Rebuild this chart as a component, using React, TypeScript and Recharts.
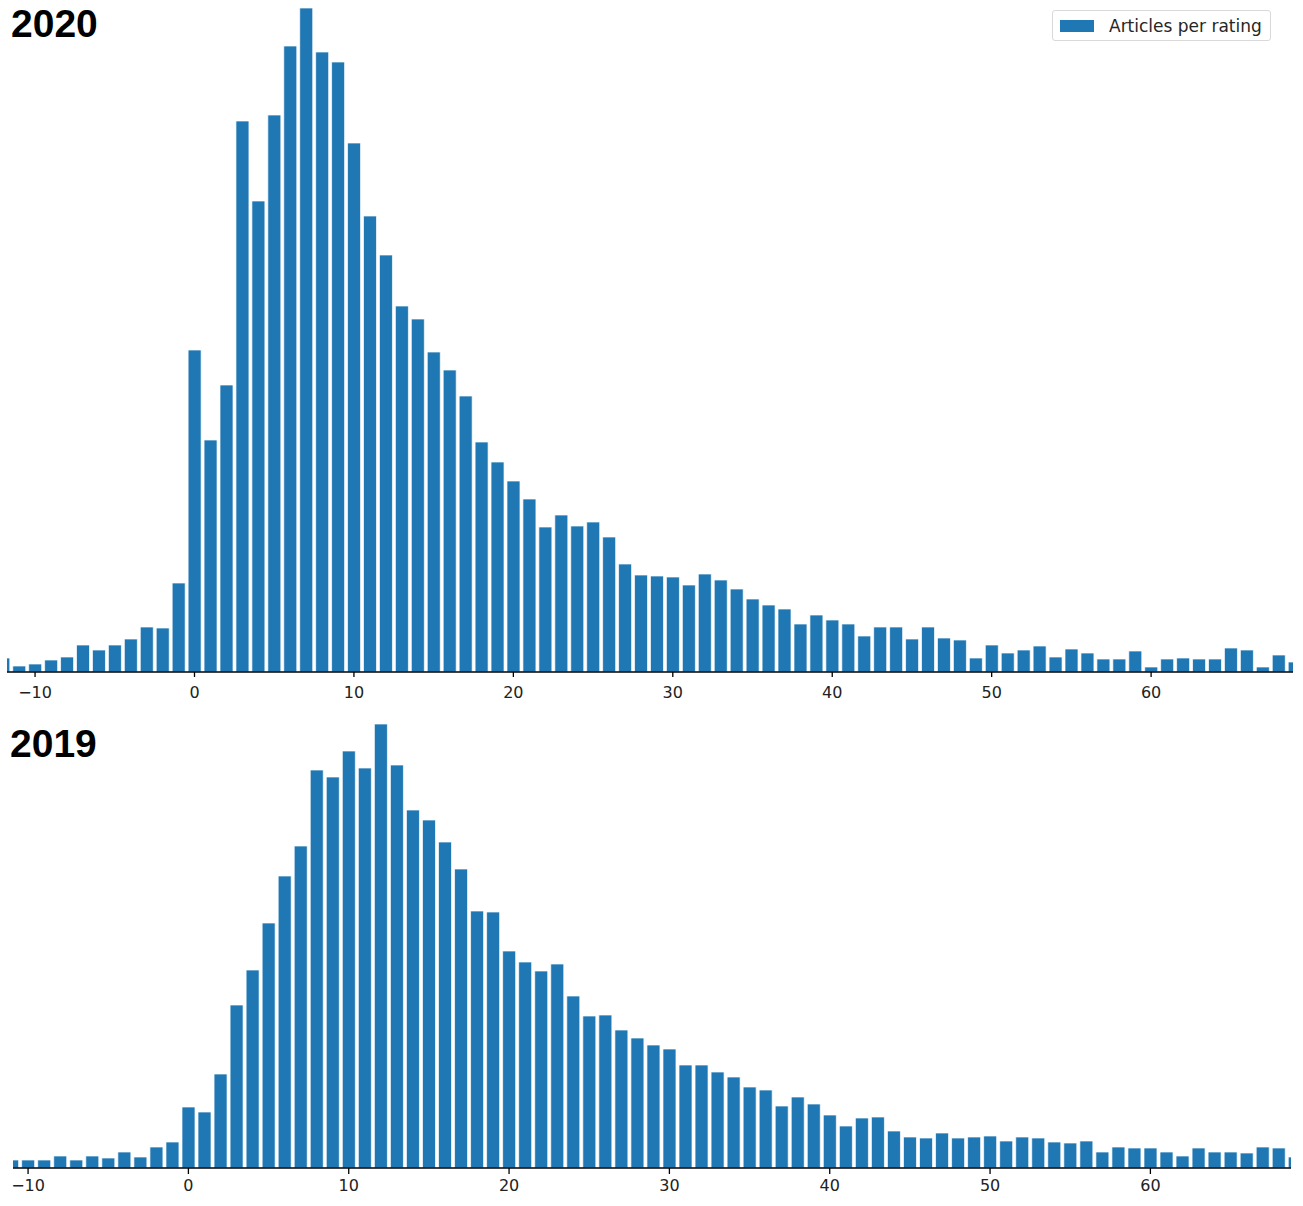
import { BarChart, Bar, XAxis, YAxis, Legend } from 'recharts';

// ratings (x) and article counts per rating
const ratings2020 = [
  -12, -11, -10, -9, -8, -7, -6, -5, -4, -3, -2, -1,
  0, 1, 2, 3, 4, 5, 6, 7, 8, 9, 10, 11, 12, 13, 14, 15, 16, 17, 18, 19,
  20, 21, 22, 23, 24, 25, 26, 27, 28, 29, 30, 31, 32, 33, 34, 35, 36, 37, 38, 39,
  40, 41, 42, 43, 44, 45, 46, 47, 48, 49, 50, 51, 52, 53, 54, 55, 56, 57, 58, 59,
  60, 61, 62, 63, 64, 65, 66, 67, 68, 69,
];
const counts2020 = [
  14, 6, 8, 12, 15, 27, 22, 27, 33, 45, 44, 89,
  322, 232, 287, 551, 471, 557, 626, 664, 620, 610, 529, 456, 417, 366, 353, 320, 302, 276, 230, 210,
  191, 173, 145, 157, 146, 150, 135, 108, 97, 96, 95, 87, 98, 92, 83, 73, 67, 63, 48, 57,
  52, 48, 36, 45, 45, 33, 45, 34, 32, 14, 27, 19, 22, 26, 15, 23, 19, 13, 13, 21,
  5, 13, 14, 13, 13, 24, 22, 5, 17, 10,
];

const ratings2019 = [
  -11, -10, -9, -8, -7, -6, -5, -4, -3, -2, -1,
  0, 1, 2, 3, 4, 5, 6, 7, 8, 9, 10, 11, 12, 13, 14, 15, 16, 17, 18, 19,
  20, 21, 22, 23, 24, 25, 26, 27, 28, 29, 30, 31, 32, 33, 34, 35, 36, 37, 38, 39,
  40, 41, 42, 43, 44, 45, 46, 47, 48, 49, 50, 51, 52, 53, 54, 55, 56, 57, 58, 59,
  60, 61, 62, 63, 64, 65, 66, 67, 68, 69,
];
const counts2019 = [
  8, 8, 8, 12, 8, 12, 10, 16, 11, 21, 26,
  61, 56, 94, 163, 198, 245, 292, 322, 398, 391, 417, 400, 444, 403, 358, 348, 326, 299, 257, 256,
  217, 206, 197, 204, 172, 152, 153, 138, 130, 123, 119, 103, 103, 96, 91, 81, 78, 62, 71, 64,
  53, 42, 50, 51, 37, 31, 30, 35, 30, 31, 32, 27, 31, 30, 26, 25, 27, 16, 21, 20,
  20, 16, 12, 20, 16, 16, 15, 21, 20, 11,
];

const xTicks = [-10, 0, 10, 20, 30, 40, 50, 60];
const seriesName = 'Articles per rating';

const BLUE = '#1f77b4';

const toRows = (xs: number[], ys: number[]) => xs.map((rating, i) => ({ rating, count: ys[i] }));

const data2020 = toRows(ratings2020, counts2020);
const data2019 = toRows(ratings2019, counts2019);

const fmtTick = (v: number) => (v < 0 ? `\u2212${Math.abs(v)}` : `${v}`);

const tickStyle = { fontSize: 16, fill: '#222', fontFamily: 'DejaVu Sans' };

function LegendBox() {
  return (
    <div
      style={{
        boxSizing: 'border-box',
        width: 219,
        height: 31,
        border: '1px solid #d9d9d9',
        borderRadius: 3,
        background: '#fff',
        display: 'flex',
        alignItems: 'center',
        paddingLeft: 7,
        fontFamily: 'DejaVu Sans',
        fontSize: 17,
        color: '#262626',
        whiteSpace: 'nowrap',
      }}
    >
      <span style={{ display: 'inline-block', width: 34, height: 12, background: BLUE, marginRight: 15 }} />
      <span>{seriesName}</span>
    </div>
  );
}

function YearLabel({ text, x, y }: { text: string; x: number; y: number }) {
  return (
    <svg width={120} height={50} style={{ position: 'absolute', left: x, top: y, overflow: 'visible' }}>
      <text x={0} y={37} fontFamily="Liberation Sans, Arial" fontWeight="bold" fontSize={39} fill="#000">
        {text}
      </text>
    </svg>
  );
}

export default function App() {
  return (
    <div style={{ position: 'absolute', left: 0, top: 0, width: 1303, height: 1206, background: '#fff', overflow: 'hidden' }}>
      {/* 2020 */}
      <div style={{ position: 'absolute', left: 0, top: 0 }}>
        <BarChart width={1303} height={716} data={data2020} margin={{ top: 8, right: 10, left: 7, bottom: 0 }} barCategoryGap="10%">
          <XAxis
            dataKey="rating"
            type="number"
            domain={[-11.76, 68.9]}
            allowDataOverflow
            ticks={xTicks}
            interval={0}
            tickFormatter={fmtTick}
            height={44}
            tick={tickStyle}
            tickSize={5}
            tickMargin={10}
            axisLine={{ stroke: '#000', strokeWidth: 1.5 }}
            tickLine={{ stroke: '#000', strokeWidth: 1.3 }}
          />
          <YAxis hide domain={[0, 664]} allowDataOverflow />
          <Legend
            layout="vertical"
            align="center"
            verticalAlign="middle"
            content={() => <LegendBox />}
            wrapperStyle={{ position: 'absolute', left: 1052, top: 10, width: 219, height: 31 }}
          />
          <Bar dataKey="count" name={seriesName} fill={BLUE} stroke="rgba(255,255,255,0.7)" strokeWidth={1} isAnimationActive={false} />
        </BarChart>
      </div>
      <YearLabel text="2020" x={11} y={0} />

      {/* 2019 */}
      <div style={{ position: 'absolute', left: 0, top: 718 }}>
        <BarChart width={1303} height={488} data={data2019} margin={{ top: 6, right: 12, left: 13, bottom: 0 }} barCategoryGap="10%">
          <XAxis
            dataKey="rating"
            type="number"
            domain={[-10.94, 68.77]}
            allowDataOverflow
            ticks={xTicks}
            interval={0}
            tickFormatter={fmtTick}
            height={38}
            tick={tickStyle}
            tickSize={6}
            tickMargin={6}
            axisLine={{ stroke: '#000', strokeWidth: 1.5 }}
            tickLine={{ stroke: '#000', strokeWidth: 1.3 }}
          />
          <YAxis hide domain={[0, 444]} allowDataOverflow />
          <Bar dataKey="count" name={seriesName} fill={BLUE} stroke="rgba(255,255,255,0.7)" strokeWidth={1} isAnimationActive={false} />
        </BarChart>
      </div>
      <YearLabel text="2019" x={10} y={720} />
    </div>
  );
}
